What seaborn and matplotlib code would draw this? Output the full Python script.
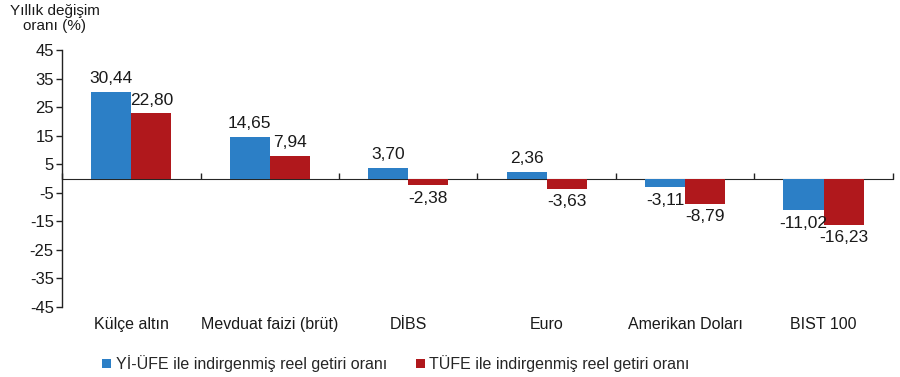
import seaborn as sns
import pandas as pd
import matplotlib.pyplot as plt

categories = ["Külçe altın", "Mevduat faizi (brüt)", "DİBS", "Euro", "Amerikan Doları", "BIST 100"]
yi_ufe = [30.44, 14.65, 3.70, 2.36, -3.11, -11.02]
tufe = [22.80, 7.94, -2.38, -3.63, -8.79, -16.23]
series_names = ["Yİ-ÜFE ile indirgenmiş reel getiri oranı", "TÜFE ile indirgenmiş reel getiri oranı"]
y_ticks = [45, 35, 25, 15, 5, -5, -15, -25, -35, -45]

colors = {series_names[0]: "#2C7FC6", series_names[1]: "#B0181C"}

df = pd.DataFrame({
    "kategori": categories * 2,
    "seri": [series_names[0]] * len(categories) + [series_names[1]] * len(categories),
    "deger": yi_ufe + tufe,
})

sns.set_style("white")
plt.rcParams["font.family"] = ["Liberation Sans", "DejaVu Sans"]

fig = plt.figure(figsize=(9, 3.77), dpi=100)
ax = fig.add_axes([0.069, 0.186, 0.923, 0.681])

sns.barplot(data=df, x="kategori", y="deger", hue="seri", order=categories,
            hue_order=series_names, palette=colors, width=0.58, ax=ax,
            saturation=1, edgecolor="none", legend=True)

ax.set_ylim(-45, 45)
ax.set_xlim(-0.5, len(categories) - 0.5)
ax.set_yticks(y_ticks)
ax.set_yticklabels([str(t) for t in y_ticks], fontsize=12, color="#1a1a1a")
ax.set_xlabel("")
ax.set_ylabel("")
ax.tick_params(axis="y", direction="out", length=4, width=1, color="#222222", left=True, pad=2)
ax.tick_params(axis="x", length=0, labelsize=11.5, labelcolor="#1a1a1a", pad=7)

for side in ["top", "right", "bottom"]:
    ax.spines[side].set_visible(False)
ax.spines["left"].set_color("#222222")
ax.spines["left"].set_linewidth(1)

# zero line with category boundary ticks
sec = ax.secondary_xaxis(0.5)
sec.set_xticks([i - 0.5 for i in range(len(categories) + 1)])
sec.set_xticklabels([])
sec.tick_params(direction="out", length=4, width=1, color="#222222")
sec.spines["bottom"].set_color("#222222")
sec.spines["bottom"].set_linewidth(1)

for cont in ax.containers:
    labels = [f"{v:.2f}".replace(".", ",") for v in cont.datavalues]
    ax.bar_label(cont, labels=labels, padding=4, fontsize=12.5, color="#1a1a1a")

handles, labels = ax.get_legend_handles_labels()
ax.get_legend().remove()
fig.legend(handles, labels, loc="center", ncol=2, bbox_to_anchor=(0.44, 0.035),
           frameon=False, fontsize=11.5, handlelength=0.55, handleheight=0.55,
           handletextpad=0.3, columnspacing=1.8)

fig.text(0.061, 0.99, "Yıllık değişim\noranı (%)", ha="center", va="top",
         multialignment="center", fontsize=11, color="#1a1a1a", linespacing=1.15)

fig.savefig("out.png", dpi=100)
